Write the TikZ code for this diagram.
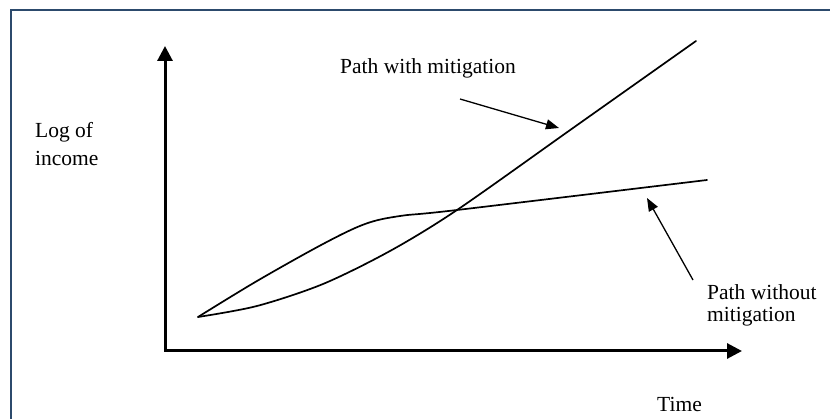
\documentclass[tikz,border=0pt]{standalone}
\usepackage{fontspec}
\setmainfont{Liberation Serif}
\usetikzlibrary{arrows.meta}
\definecolor{framecol}{RGB}{44,74,108}
\tikzset{
  axisline/.style={line width=3pt, {Triangle[length=15pt,width=15pt]}-{Triangle[length=15pt,width=15pt]}},
  curveline/.style={line width=1.7pt, line join=round, line cap=round},
  pointer/.style={line width=1.3pt, -{Triangle[length=13pt,width=10pt]}},
  lbl/.style={font=\fontsize{21.5}{26}\selectfont, inner sep=0pt, anchor=base west}
}
\begin{document}
\begin{tikzpicture}[x=1pt,y=-1pt]
\clip (0,0) rectangle (830,419);
\fill[white] (0,0) rectangle (830,419);
% frame
\draw[framecol, line width=2.2pt] (840,10.3) -- (11.2,10.3) -- (11.2,430);
% axes
\coordinate (ytop) at (165,46);
\coordinate (orig) at (165,351);
\coordinate (xend) at (742,351);
\draw[axisline] (ytop) -- (orig) -- (xend);
% curves
\draw[curveline] plot[smooth, tension=0.5] coordinates {(198,317) (257,306) (323,284) (390,251) (457,210) (573,128) (696,41)};
\draw[curveline] plot[smooth, tension=0.55] coordinates {(198,317) (257,281) (323,244) (365,224) (400,216) (457,210) (707,180)};
% labels
\node[lbl] (lwith) at (340,73.3) {Path with mitigation};
\node[lbl] (llog1) at (35,138) {Log of};
\node[lbl] (llog2) at (35,165.5) {income};
\node[lbl] (lwo1) at (707,300) {Path without};
\node[lbl] (lwo2) at (707,321.7) {mitigation};
\node[lbl] (ltime) at (657,411.5) {Time};
% pointers
\coordinate (pwA) at (460,99);
\coordinate (pwB) at (559,128);
\coordinate (poA) at (693,280);
\coordinate (poB) at (647,198);
\draw[pointer] (pwA) -- (pwB);
\draw[pointer] (poA) -- (poB);
\end{tikzpicture}
\end{document}
